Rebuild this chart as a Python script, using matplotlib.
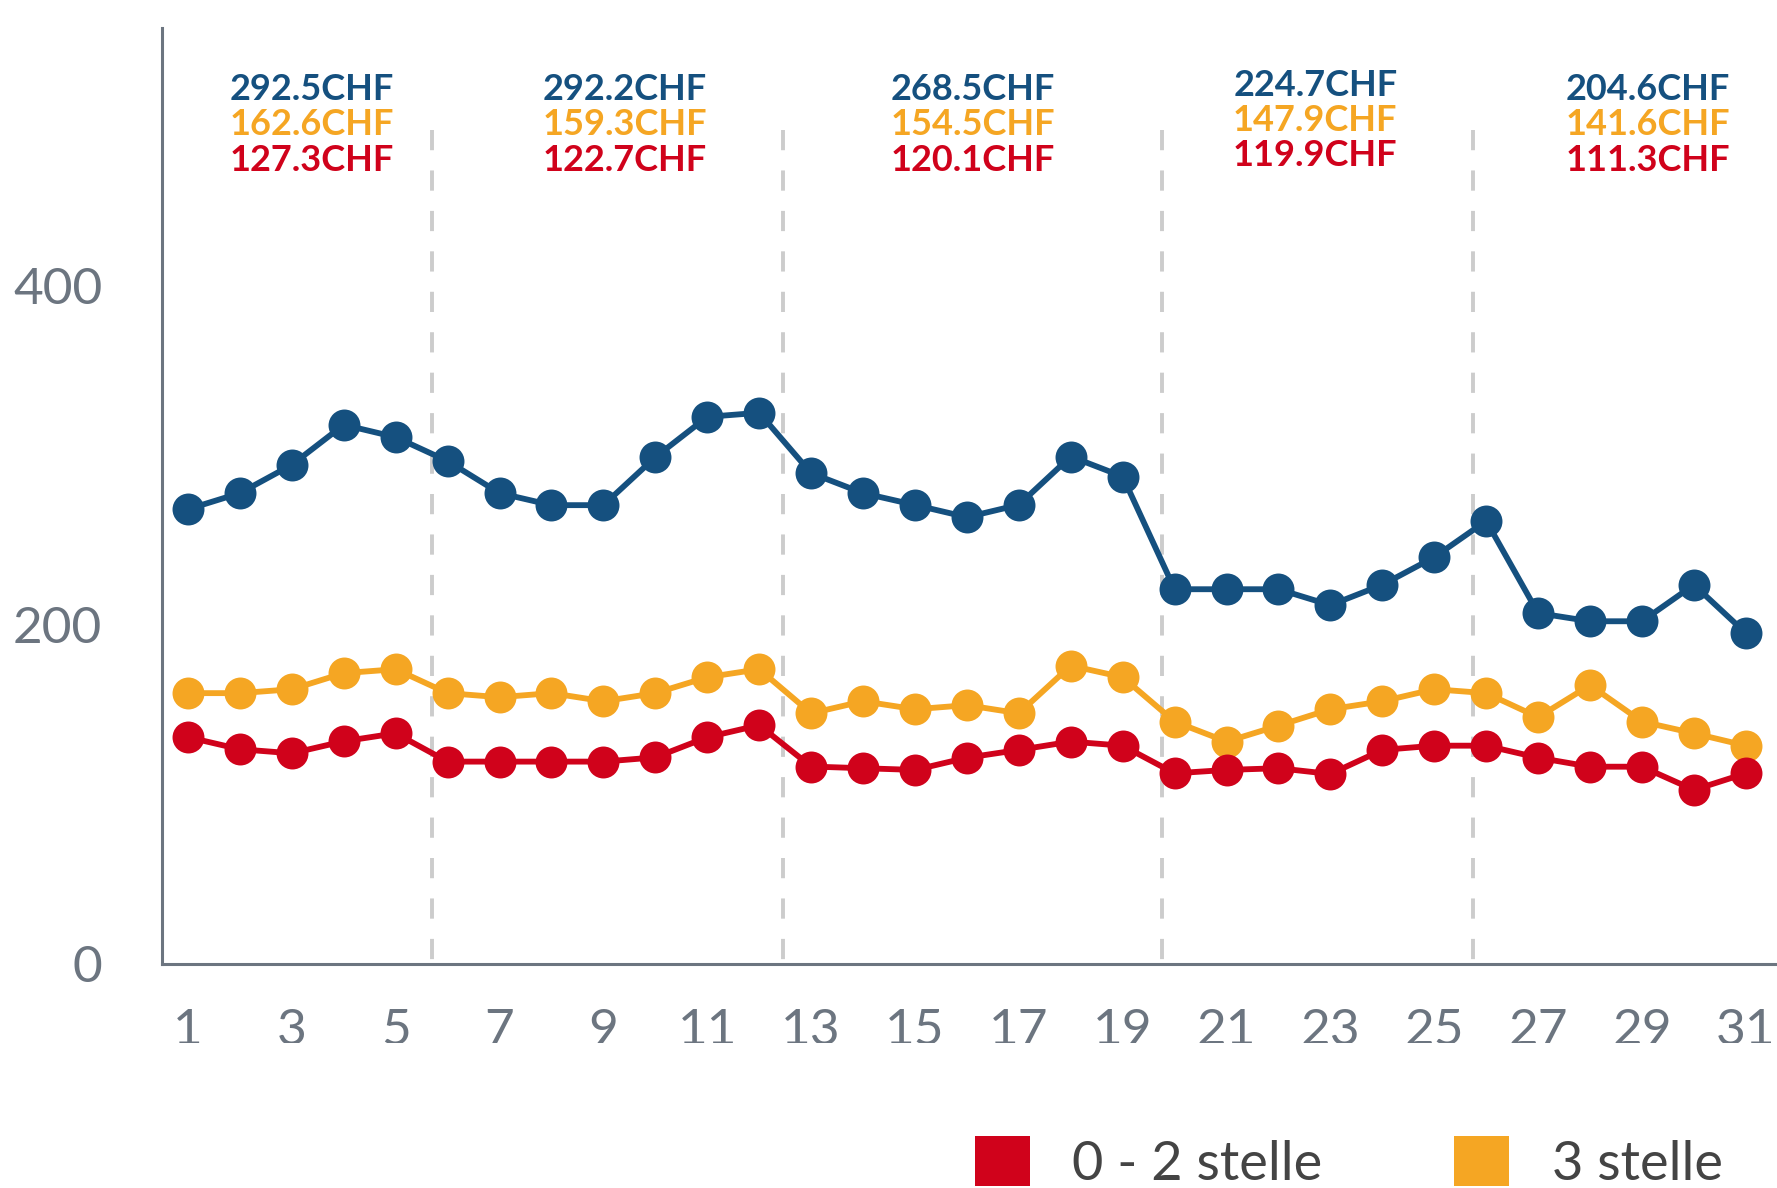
import matplotlib
matplotlib.use('Agg')
import matplotlib.pyplot as plt
from matplotlib.patches import Patch
from matplotlib.transforms import Bbox

plt.rcParams['font.family'] = ['Lato', 'DejaVu Sans']

# --- dati ---
giorni = list(range(1, 32))
stelle_45 = [268.3, 277.8, 294.5, 318.1, 310.8, 296.7, 277.8, 270.7, 270.7, 299.0,
             322.8, 325.2, 289.6, 277.8, 270.8, 263.6, 270.9, 299.4, 287.6, 221.1,
             221.1, 221.1, 211.7, 223.7, 240.0, 261.4, 207.0, 202.2, 202.2, 223.7, 195.2]
stelle_3 = [159.8, 159.8, 162.1, 171.6, 173.9, 159.8, 157.4, 159.8, 155.0, 159.8,
            169.2, 173.9, 147.9, 155.0, 150.3, 152.7, 147.9, 176.0, 169.2, 143.0,
            131.2, 140.6, 150.3, 155.0, 162.1, 159.8, 145.6, 164.5, 143.0, 136.1, 128.8]
stelle_02 = [133.8, 126.7, 124.3, 131.4, 136.1, 119.4, 119.4, 119.4, 119.4, 121.9,
             133.8, 140.9, 116.5, 115.5, 114.5, 121.7, 126.3, 131.2, 128.8, 112.5,
             114.5, 115.5, 112.1, 126.3, 128.8, 128.8, 121.7, 116.4, 116.4, 102.7, 112.5]

separatori = [5.7, 12.45, 19.75, 25.75]
medie_45 = ['292.5CHF', '292.2CHF', '268.5CHF', '224.7CHF', '204.6CHF']
medie_3 = ['162.6CHF', '159.3CHF', '154.5CHF', '147.9CHF', '141.6CHF']
medie_02 = ['127.3CHF', '122.7CHF', '120.1CHF', '119.9CHF', '111.3CHF']
centri_gruppi = [3.38, 9.41, 16.12, 22.71, 29.12]

BLU = '#15507f'
ARANCIO = '#f5a623'
ROSSO = '#d0021b'
GRIGIO = '#6c7580'

fig = plt.figure(figsize=(17.77, 11.88), dpi=100)
ax = fig.add_axes([162 / 1777, 1 - 964 / 1188, 1 - 162 / 1777, (964 - 28) / 1188])

# --- separatori settimanali (tratteggio che parte dall'alto) ---
ax.vlines(separatori, 492, 0, colors='#cccccc', linewidth=2.8,
          linestyles=(0, (5.2, 5.2)), zorder=1)

# --- linee ---
for serie, col in [(stelle_45, BLU), (stelle_3, ARANCIO), (stelle_02, ROSSO)]:
    ax.plot(giorni, serie, color=col, linewidth=4.2, marker='o',
            markersize=23, markeredgewidth=0, zorder=3)

# --- medie per gruppo ---
for i, xc in enumerate(centri_gruppi):
    su = 2.6 if i == 3 else 0
    for testo, col, yb in [(medie_45[i], BLU, 509.7), (medie_3[i], ARANCIO, 489.1),
                           (medie_02[i], ROSSO, 468.0)]:
        ax.text(xc, yb + su, testo, color=col, fontsize=26, fontweight='bold',
                ha='center', va='baseline')

ax.set_xlim(0.5, 31.6)
ax.set_ylim(0, 552.2)
ax.set_xticks(list(range(1, 32, 2)))
ax.set_yticks([0, 200, 400])

for s in ['top', 'right']:
    ax.spines[s].set_visible(False)
for s in ['left', 'bottom']:
    ax.spines[s].set_color(GRIGIO)
    ax.spines[s].set_linewidth(2.2)

ax.tick_params(axis='both', length=0, labelsize=37, labelcolor=GRIGIO)
ax.tick_params(axis='x', pad=32)
ax.tick_params(axis='y', pad=43)

# le etichette dei giorni sono tagliate in basso nell'originale
taglio = Bbox.from_extents(0, 1188 - 1043, 1777, 1188)
for lab in ax.get_xticklabels():
    lab.set_clip_on(True)
    lab.set_clip_box(taglio)

# --- legenda ---
maniglie = [Patch(facecolor=ROSSO, label='0 - 2 stelle'),
            Patch(facecolor=ARANCIO, label='3 stelle')]
fig.legend(handles=maniglie, loc='upper left', bbox_to_anchor=(975 / 1777, 1 - 1136 / 1188),
           ncol=2, frameon=False, fontsize=39, handlelength=1.01, handleheight=1.05,
           handletextpad=0.79, columnspacing=2.43, borderpad=0, borderaxespad=0,
           labelcolor='#444444')

fig.savefig('out.png', dpi=100)
